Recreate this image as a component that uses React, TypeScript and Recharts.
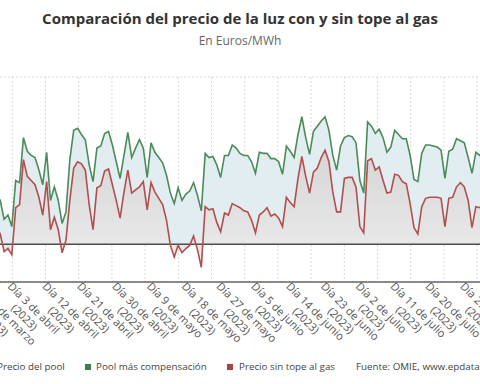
import { Area, CartesianGrid, ComposedChart, Line, ReferenceLine, XAxis, YAxis } from 'recharts';

// day index 0 = 3 de abril de 2023, first value is day -5 (29 de marzo)
const FIRST_DAY = -5;

// Pool más compensación (€/MWh)
const poolComp = [
	47, 42, 24, 28, 17,
	61, 59, 102, 89, 85, 83, 71, 57, 88, 42,
	55, 42, 20, 31, 81, 109, 111, 105, 100, 76,
	60, 92, 94, 106, 108, 95, 79, 63, 85, 107,
	83, 92, 100, 92, 64, 97, 88, 83, 78, 66,
	49, 39, 54, 42, 48, 51, 59, 47, 32, 87,
	83, 84, 76, 64, 85, 85, 95, 92, 87, 85,
	85, 79, 68, 88, 87, 87, 82, 82, 79, 67,
	94, 89, 83, 105, 122, 102, 86, 108, 113, 118,
	122, 109, 85, 71, 94, 102, 104, 103, 97, 61,
	49, 117, 113, 106, 110, 102, 88, 93, 109, 105,
	101, 101, 85, 62, 60, 87, 95, 95, 94, 93,
	90, 63, 89, 91, 101, 99, 97, 83, 68, 88,
	85, 90,
];

// Precio sin tope al gas (€/MWh)
const sinTope = [
	16, 10, -7, -4, -10,
	35, 38, 81, 65, 61, 57, 45, 28, 60, 14,
	26, 14, -8, 4, 42, 73, 79, 77, 71, 38,
	14, 54, 56, 70, 72, 57, 42, 25, 50, 71,
	49, 52, 55, 60, 33, 59, 50, 44, 38, 23,
	-1, -12, -1, -8, -4, -1, 8, -5, -22, 36,
	33, 34, 21, 12, 30, 28, 39, 37, 35, 32,
	31, 23, 11, 28, 31, 35, 27, 29, 25, 17,
	45, 40, 36, 63, 84, 65, 49, 69, 73, 83,
	90, 79, 50, 31, 31, 63, 64, 64, 55, 17,
	11, 80, 82, 71, 74, 61, 49, 50, 67, 66,
	60, 58, 39, 16, 10, 36, 44, 45, 45, 45,
	44, 17, 44, 45, 55, 59, 55, 42, 16, 36,
	35, 38,
];

const tickDays = [-9, 0, 9, 18, 27, 36, 45, 54, 63, 72, 81, 90, 99, 108, 117];
const tickLabels = [
	'Día 25 de marzo',
	'Día 3 de abril',
	'Día 12 de abril',
	'Día 21 de abril',
	'Día 30 de abril',
	'Día 9 de mayo',
	'Día 18 de mayo',
	'Día 27 de mayo',
	'Día 5 de junio',
	'Día 14 de junio',
	'Día 23 de junio',
	'Día 2 de julio',
	'Día 11 de julio',
	'Día 20 de julio',
	'Día 29 de julio',
];
const yTicks = [-20, 0, 20, 40, 60, 80, 100, 120, 140, 160];

const rows = poolComp.map((v, i) => ({ day: FIRST_DAY + i, comp: v, sinTope: sinTope[i] }));

const FONT = "'Open Sans', sans-serif";
const W = 480;
const PAD = 60;
const PX_PER_DAY = 3.867;
const DAY0_X = 15.7;
const xDomain = [(-PAD - DAY0_X) / PX_PER_DAY, (W + PAD - DAY0_X) / PX_PER_DAY];

let ctx: CanvasRenderingContext2D | null = null;
function textWidth(s: string) {
	if (!ctx && typeof document !== 'undefined') ctx = document.createElement('canvas').getContext('2d');
	if (!ctx) return s.length * 5.6;
	ctx.font = `11px ${FONT}`;
	return ctx.measureText(s).width;
}

function DateTick(props: any) {
	const { x, y, payload } = props;
	const i = tickDays.indexOf(payload.value);
	if (i < 0) return null;
	const label = tickLabels[i];
	const w = textWidth(label);
	return (
		<g transform={`translate(${x - 8.7},${y + 5}) rotate(45)`}>
			<text x={0} y={0} fill="#555" fontSize={11} fontFamily={FONT} textAnchor="start">
				{label}
			</text>
			<text x={w / 2} y={13} fill="#555" fontSize={11} fontFamily={FONT} textAnchor="middle">
				(2023)
			</text>
		</g>
	);
}

const gridX = () => Array.from({ length: 19 }, (_, j) => PAD + 12.3 + 33.2 * (j - 1));

const legendText = { position: 'absolute', top: 361, fontSize: 9.8, lineHeight: '12px', color: '#444', whiteSpace: 'nowrap' } as const;
const legendBox = { position: 'absolute', top: 364, width: 6, height: 6 } as const;

export default function App() {
	return (
		<div style={{ position: 'relative', width: W, height: 384, overflow: 'hidden', background: '#fff', fontFamily: FONT }}>
			<style>{'body{margin:0}'}</style>
			<div style={{ position: 'absolute', top: 8, left: 0, width: W, textAlign: 'center', fontSize: 15, fontWeight: 700, color: '#333' }}>
				Comparación del precio de la luz con y sin tope al gas
			</div>
			<div style={{ position: 'absolute', top: 32, left: 0, width: W, textAlign: 'center', fontSize: 12, color: '#666' }}>
				En Euros/MWh
			</div>
			<div style={{ position: 'absolute', left: -PAD, top: 0 }}>
				<ComposedChart width={W + 2 * PAD} height={384} data={rows} margin={{ top: 77, right: 0, bottom: 0, left: 0 }}>
					<defs>
						<linearGradient id="greyFill" x1="0" y1="0" x2="0" y2="1">
							<stop offset="0%" stopColor="#d6d6d6" />
							<stop offset="100%" stopColor="#ececec" />
						</linearGradient>
					</defs>
					<CartesianGrid stroke="#d9d9d9" strokeDasharray="2 2" verticalCoordinatesGenerator={gridX} />
					<XAxis
						type="number"
						dataKey="day"
						domain={xDomain}
						allowDataOverflow
						ticks={tickDays}
						interval={0}
						height={102}
						tickSize={0}
						tickMargin={0}
						tickLine={false}
						axisLine={{ stroke: '#666', strokeWidth: 1.5 }}
						tick={<DateTick />}
					/>
					<YAxis width={0} domain={[-36, 160]} ticks={yTicks} allowDataOverflow tick={false} axisLine={false} tickLine={false} />
					<Area type="linear" dataKey="comp" baseValue={0} stroke="none" fill="#e2edf1" fillOpacity={1} isAnimationActive={false} />
					<Area type="linear" dataKey="sinTope" baseValue={0} stroke="none" fill="url(#greyFill)" fillOpacity={1} isAnimationActive={false} />
					<ReferenceLine y={0} stroke="#4d4d4d" strokeWidth={1.5} />
					<Line type="linear" dataKey="comp" stroke="#4b8b5a" strokeWidth={1.6} dot={false} activeDot={false} isAnimationActive={false} />
					<Line type="linear" dataKey="sinTope" stroke="#b24e4d" strokeWidth={1.6} dot={false} activeDot={false} isAnimationActive={false} />
				</ComposedChart>
			</div>
			<span style={{ ...legendText, left: -3 }}>Precio del pool</span>
			<span style={{ ...legendBox, left: 85, background: '#3f7d4c' }} />
			<span style={{ ...legendText, left: 96 }}>Pool más compensación</span>
			<span style={{ ...legendBox, left: 227, background: '#a84544' }} />
			<span style={{ ...legendText, left: 239 }}>Precio sin tope al gas</span>
			<span style={{ ...legendText, left: 356 }}>Fuente: OMIE, www.epdata.es</span>
		</div>
	);
}
